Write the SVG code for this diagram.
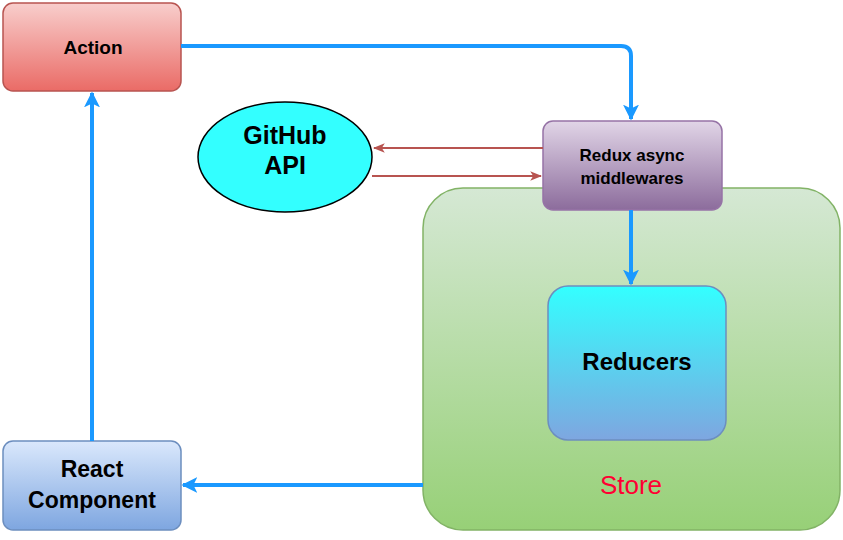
<svg xmlns="http://www.w3.org/2000/svg" width="843" height="540" viewBox="0 0 843 540">
<style>
.t{font-family:"Liberation Sans",Arial,sans-serif;font-weight:bold;fill:#000;text-anchor:middle}
.b{fill:none;stroke:#1a99ff;stroke-width:4}
.r{fill:none;stroke:#b85450;stroke-width:2}
</style>
<defs>
<linearGradient id="gr" x1="0" y1="0" x2="0" y2="1"><stop offset="0" stop-color="#f8cecc"/><stop offset="1" stop-color="#ea6b66"/></linearGradient>
<linearGradient id="gp" x1="0" y1="0" x2="0" y2="1"><stop offset="0" stop-color="#e1d5e7"/><stop offset="1" stop-color="#8c6c9c"/></linearGradient>
<linearGradient id="gg" x1="0" y1="0" x2="0" y2="1"><stop offset="0" stop-color="#d5e8d4"/><stop offset="1" stop-color="#97d077"/></linearGradient>
<linearGradient id="gc" x1="0" y1="0" x2="0" y2="1"><stop offset="0" stop-color="#33ffff"/><stop offset="1" stop-color="#7ea6e0"/></linearGradient>
<linearGradient id="gb" x1="0" y1="0" x2="0" y2="1"><stop offset="0" stop-color="#dae8fc"/><stop offset="1" stop-color="#7ea6e0"/></linearGradient>
<marker id="ab" viewBox="0 0 10 10" refX="9" refY="5" markerWidth="4" markerHeight="4.5" orient="auto"><path d="M0,0L10,5L0,10L2.5,5z" fill="#1a99ff"/></marker>
<marker id="ar" viewBox="0 0 10 10" refX="9" refY="5" markerWidth="6" markerHeight="6" orient="auto"><path d="M0,1L10,5L0,9L2.5,5z" fill="#b85450"/></marker>
</defs>
<g id="store"><rect x="423" y="188" width="417" height="342" rx="40" fill="url(#gg)" stroke="#82b366" stroke-width="1.5"/>
<text x="631" y="494" font-family="Liberation Sans,Arial,sans-serif" font-size="26" fill="#ff0033" text-anchor="middle">Store</text></g>
<g id="action"><rect x="3" y="3" width="178" height="88" rx="10" fill="url(#gr)" stroke="#b85450" stroke-width="1.5"/><text class="t" x="93" y="54" font-size="19">Action</text></g>
<g id="github"><ellipse cx="285" cy="157" rx="87" ry="55" fill="#33ffff" stroke="#000" stroke-width="1.5"/><text class="t" x="285" y="144" font-size="25">GitHub</text><text class="t" x="285" y="174" font-size="25">API</text></g>
<g id="middleware"><rect x="543" y="121" width="179" height="89" rx="10" fill="url(#gp)" stroke="#9673a6" stroke-width="1.5"/><text class="t" x="632" y="161" font-size="17">Redux async</text><text class="t" x="632" y="184" font-size="17">middlewares</text></g>
<g id="reducers"><rect x="548" y="286" width="178" height="154" rx="20" fill="url(#gc)" stroke="#6c8ebf" stroke-width="1.5"/><text class="t" x="637" y="370" font-size="24">Reducers</text></g>
<g id="react"><rect x="3" y="441" width="178" height="89" rx="10" fill="url(#gb)" stroke="#6c8ebf" stroke-width="1.5"/><text class="t" x="92" y="477" font-size="23">React</text><text class="t" x="92" y="508" font-size="23">Component</text></g>
<g id="connectors">
<path class="b" d="M181,46H621Q631,46 631,56V119" marker-end="url(#ab)"/>
<path class="b" d="M631,210V284" marker-end="url(#ab)"/>
<path class="b" d="M423,485H183" marker-end="url(#ab)"/>
<path class="b" d="M92,441V93" marker-end="url(#ab)"/>
<path class="r" d="M543,148H374" marker-end="url(#ar)"/>
<path class="r" d="M372,176H541" marker-end="url(#ar)"/>
</g>
</svg>
